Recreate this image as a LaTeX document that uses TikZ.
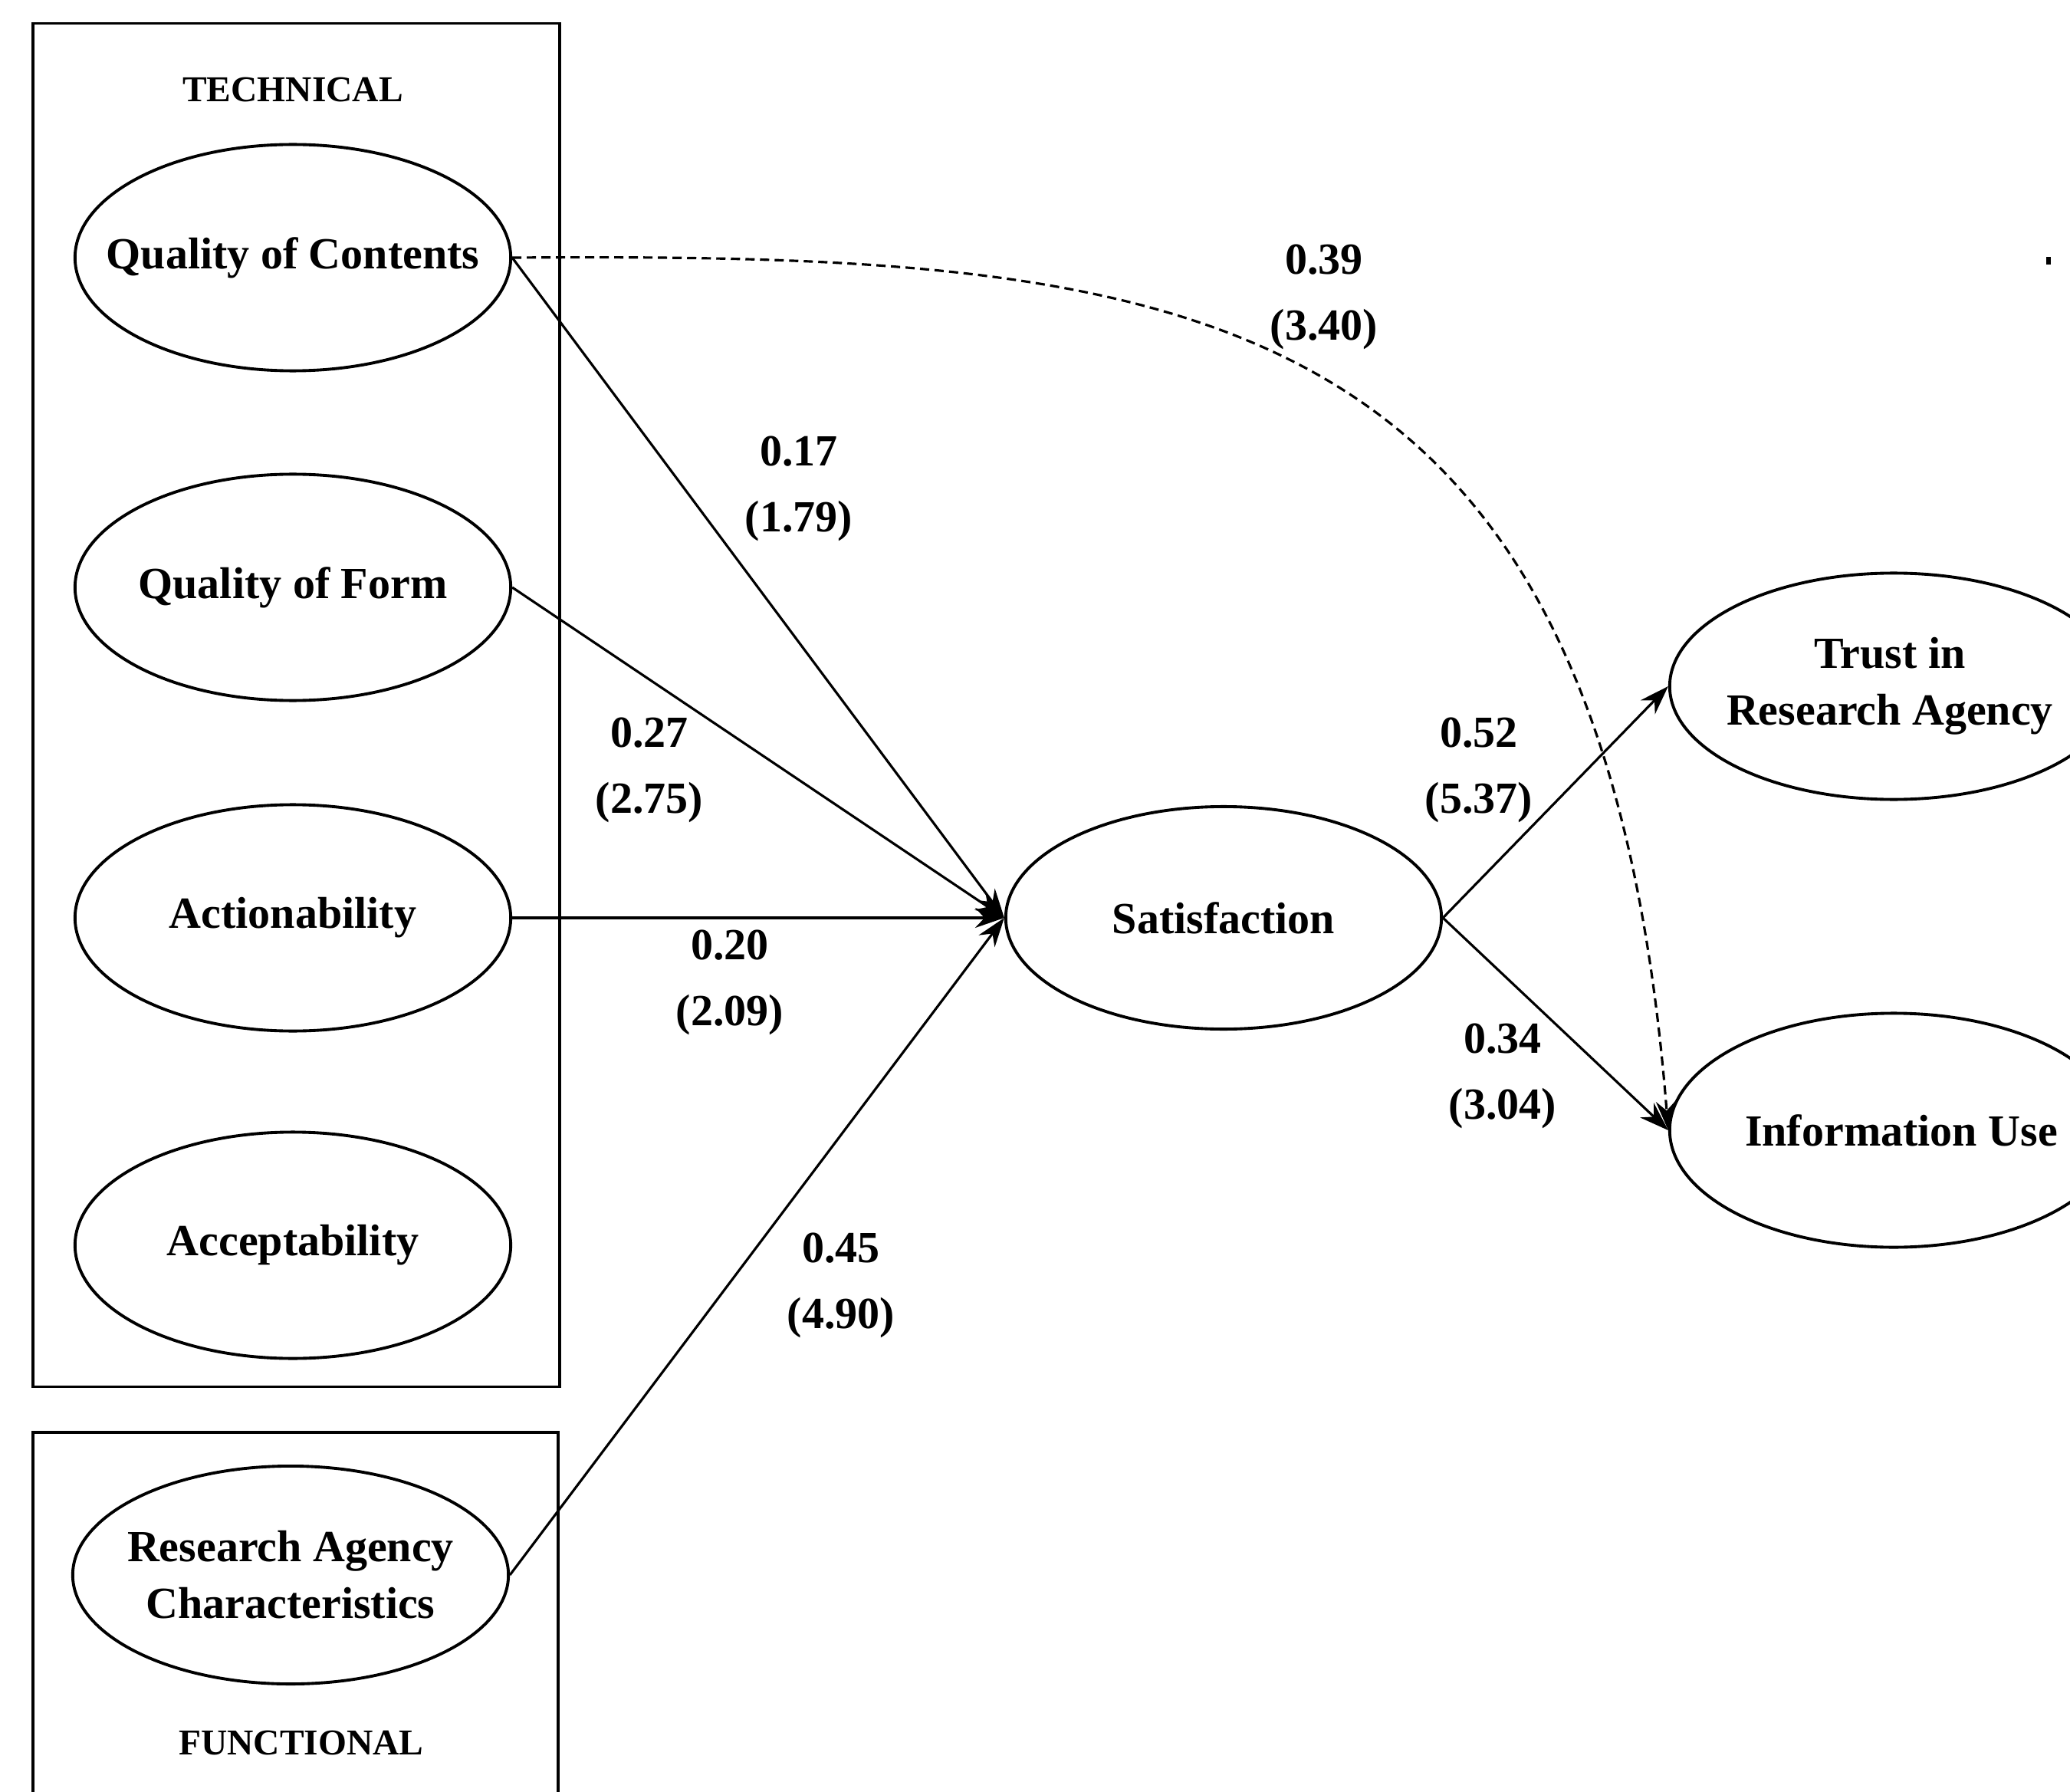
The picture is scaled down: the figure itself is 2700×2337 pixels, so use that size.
\documentclass[tikz,border=0pt]{standalone}
\usepackage{fontspec}
\setmainfont{Liberation Serif}
\usetikzlibrary{shapes.geometric,arrows.meta}
\begin{document}
\begin{tikzpicture}[x=0.01cm,y=-0.01cm,
  latent/.style={ellipse,draw,line width=1.1pt,inner sep=0pt,minimum width=5.68cm,minimum height=2.95cm},
  lbl/.style={font=\fontsize{16.5}{21}\selectfont\bfseries,align=center,inner sep=0pt},
  frame/.style={draw,line width=1.1pt,inner sep=0pt},
  grp/.style={font=\fontsize{13.5}{15}\selectfont\bfseries},
  coef/.style={font=\fontsize{16.5}{24.5}\selectfont\bfseries,align=center,inner sep=0pt},
  path/.style={line width=0.9pt,-{Stealth[length=0.38cm,width=0.26cm]}},
  dpath/.style={line width=0.9pt,dash pattern=on 0.12cm off 0.07cm,-{Stealth[length=0.38cm,width=0.26cm]}}]
\useasboundingbox (0,0) rectangle (2700,2337);
% frames
\node[frame,minimum width=6.87cm,minimum height=17.77cm] (techbox) at (386.5,919.5) {};
\node[frame,minimum width=6.85cm,minimum height=4.80cm] (funcbox) at (385.5,2108) {};
\node[grp] (techlbl) at (382,117) {TECHNICAL};
\node[grp] (funclbl) at (393,2273) {FUNCTIONAL};
% latent variables
\node[latent] (qoc) at (382,336) {};
\node[latent] (qof) at (382,766) {};
\node[latent] (act) at (382,1197) {};
\node[latent] (acc) at (382,1624) {};
\node[latent,minimum height=2.84cm] (rac) at (379,2054) {};
\node[latent,minimum height=2.90cm] (sat) at (1596,1197) {};
\node[latent,minimum width=5.84cm] (trust) at (2470,895) {};
\node[latent,minimum width=5.84cm,minimum height=3.05cm] (info) at (2470,1474) {};
\node[lbl] (qoct) at (qoc) {Quality of Contents};
\node[lbl] (qoft) at (qof) {Quality of Form};
\node[lbl] (actt) at (act) {Actionability};
\node[lbl] (acct) at (acc) {Acceptability};
\node[lbl] (ract) at (rac) {Research Agency\\Characteristics};
\node[lbl] (satt) at (sat) {Satisfaction};
\node[lbl] (trustt) at (2465,895) {Trust in\\Research Agency};
\node[lbl] (infot) at (2480,1474) {Information Use};
% paths
\draw[path] (qoc.east) -- (sat.west);
\draw[path] (qof.east) -- (sat.west);
\draw[path] (act.east) -- (sat.west);
\draw[path] (rac.east) -- (sat.west);
\draw[path] (sat.east) -- (trust.west);
\draw[path] (sat.east) -- (info.west);
\draw[dpath] (qoc.east) .. controls (1550,330) and (2090,380) .. (info.west);
% coefficients
\node[coef] (c17) at (1042,637) {0.17\\(1.79)};
\node[coef] (c27) at (847,1004) {0.27\\(2.75)};
\node[coef] (c20) at (952,1281) {0.20\\(2.09)};
\node[coef] (c45) at (1097,1676) {0.45\\(4.90)};
\node[coef] (c39) at (1727,387) {0.39\\(3.40)};
\node[coef] (c52) at (1929,1004) {0.52\\(5.37)};
\node[coef] (c34) at (1960,1403) {0.34\\(3.04)};
% speck
\fill (2669,335) rectangle (2675,345);
\end{tikzpicture}
\end{document}
